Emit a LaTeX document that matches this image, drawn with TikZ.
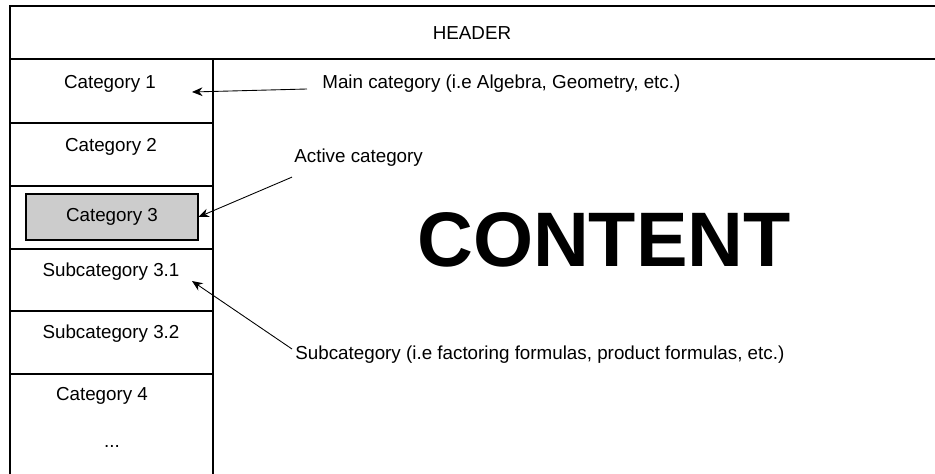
\documentclass[tikz,border=0pt]{standalone}
\usepackage{fontspec}
\setmainfont{Liberation Sans}
\usetikzlibrary{arrows.meta,positioning,calc}

\tikzset{
    frame/.style={line width=1.2pt},
    txt/.style={font=\fontsize{10.7}{12}\selectfont, inner sep=0pt},
    note/.style={txt, anchor=west},
    pointer/.style={-{Stealth[length=6pt,width=5pt]}, line width=0.5pt},
}

\begin{document}
\begin{tikzpicture}[x=0.02cm,y=-0.02cm]
    \useasboundingbox (0,0) rectangle (935,473);
    \clip (0,0) rectangle (935,473);

    % frame, header and side menu
    \draw[frame] (10,6) rectangle (960,500);
    \draw[frame] (10,59) -- (960,59);
    \draw[frame] (213,59) -- (213,500);
    \foreach \y in {123,186,249,311,374}
        \draw[frame] (10,\y) -- (213,\y);

    \node[txt] (header) at (472,33) {HEADER};

    \node[txt] (cat1) at (110,84) {Category 1};
    \node[txt] (cat2) at (111,147) {Category 2};
    \node[txt, draw, fill=gray!40, line width=0.6pt, minimum width=3.44cm, minimum height=0.92cm] (cat3) at (112,217) {Category 3};
    \node[txt] (sub31) at (111,272) {Subcategory 3.1};
    \node[txt] (sub32) at (111,334) {Subcategory 3.2};
    \node[txt] (cat4) at (102,396) {Category 4};
    \node[txt] (dots) at (112,446) {...};

    \node[font=\bfseries\fontsize{44}{50}\selectfont] (content) at (604,240) {CONTENT};

    % notes
    \node[note] (mainnote) at (322,84) {Main category (i.e Algebra, Geometry, etc.)};
    \node[note] (activenote) at (294,158) {Active category};
    \node[note] (subnote) at (295,355) {Subcategory (i.e factoring formulas, product formulas, etc.)};

    \coordinate (tip1) at (192,92);
    \coordinate (tip31) at (192,281);

    \draw[pointer] ($(mainnote.west)+(-15,5)$) -- (tip1);
    \draw[pointer] ($(activenote.south west)+(-2,10)$) -- (cat3.east);
    \draw[pointer] ($(subnote.west)+(-3,-6)$) -- (tip31);
\end{tikzpicture}
\end{document}
